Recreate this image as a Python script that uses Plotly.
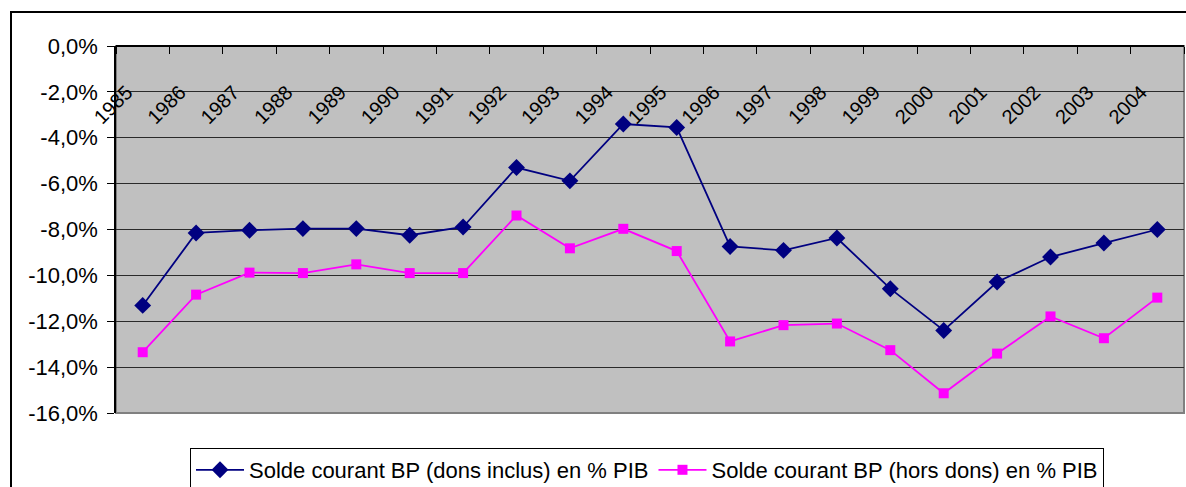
import plotly.graph_objects as go

years = ["1985", "1986", "1987", "1988", "1989", "1990", "1991", "1992", "1993", "1994",
         "1995", "1996", "1997", "1998", "1999", "2000", "2001", "2002", "2003", "2004"]
solde_dons_inclus = [-11.31, -8.15, -8.03, -7.96, -7.96, -8.25, -7.89, -5.30, -5.88, -3.40,
                     -3.55, -8.74, -8.91, -8.37, -10.58, -12.40, -10.29, -9.20, -8.59, -8.00]
solde_hors_dons = [-13.35, -10.84, -9.88, -9.90, -9.52, -9.90, -9.90, -7.39, -8.82, -7.97,
                   -8.94, -12.88, -12.17, -12.10, -13.26, -15.14, -13.41, -11.79, -12.74, -10.97]
name_inclus = "Solde courant BP (dons inclus) en % PIB"
name_hors = "Solde courant BP (hors dons) en % PIB"
y_tickvals = [0, -2, -4, -6, -8, -10, -12, -14, -16]
y_ticktext = ["0,0%", "-2,0%", "-4,0%", "-6,0%", "-8,0%", "-10,0%", "-12,0%", "-14,0%", "-16,0%"]

W, H = 1186, 487
L, R, T, B = 116, 1184, 46, 413
pw, ph = R - L, B - T

FONT = "Liberation Sans, Arial, sans-serif"

fig = go.Figure()
fig.add_trace(go.Scatter(
    x=years, y=solde_dons_inclus, name=name_inclus, mode="lines+markers",
    line=dict(color="#000080", width=1.8),
    marker=dict(symbol="diamond", size=13, color="#000080"),
))
fig.add_trace(go.Scatter(
    x=years, y=solde_hors_dons, name=name_hors, mode="lines+markers",
    line=dict(color="#FF00FF", width=1.8),
    marker=dict(symbol="square", size=10, color="#FF00FF"),
))

# plot area background with grey border
fig.add_shape(type="rect", xref="paper", yref="paper", x0=0, x1=1, y0=0, y1=1,
              fillcolor="#C0C0C0", line=dict(color="#808080", width=2), layer="below")
# outer chart border (left/top visible)
fig.add_shape(type="rect", xref="paper", yref="paper",
              x0=(11 - L) / pw, x1=(W + 30 - L) / pw,
              y0=(B - (H + 30)) / ph, y1=1 + (T - 12) / ph,
              line=dict(color="black", width=2), fillcolor="rgba(0,0,0,0)", layer="below")

fig.update_layout(
    width=W, height=H,
    margin=dict(l=L, r=W - R, t=T, b=H - B, pad=0, autoexpand=False),
    paper_bgcolor="white", plot_bgcolor="rgba(0,0,0,0)",
    font=dict(family=FONT, size=20, color="black"),
    showlegend=True,
    legend=dict(orientation="h", x=(190 - L) / pw, xanchor="left",
                y=(B - 448) / ph, yanchor="top",
                bordercolor="black", borderwidth=1, bgcolor="white",
                font=dict(family=FONT, size=22, color="black"),
                itemwidth=48),
    xaxis=dict(type="category", range=[-0.5, 19.5], anchor="free", position=1, side="bottom",
               automargin=False,
               showline=True, linecolor="black", linewidth=1.5,
               ticks="outside", tickson="boundaries", ticklen=7, tickcolor="black", tickwidth=1,
               tickangle=-45, showgrid=False, tickfont=dict(family=FONT, size=20),
               ticklabelstandoff=26, ticklabelshift=-16),
    yaxis=dict(range=[-16, 0], tickvals=y_tickvals, ticktext=y_ticktext, automargin=False,
               showline=True, linecolor="black", linewidth=1.5,
               ticks="outside", ticklen=7, tickcolor="black",
               showgrid=True, gridcolor="#2a2a2a", gridwidth=1.4, zeroline=False,
               tickfont=dict(family=FONT, size=22), ticklabelstandoff=5),
)

fig.write_html("out.html", config={"displayModeBar": False},
               post_script="document.body.style.margin='0';")
